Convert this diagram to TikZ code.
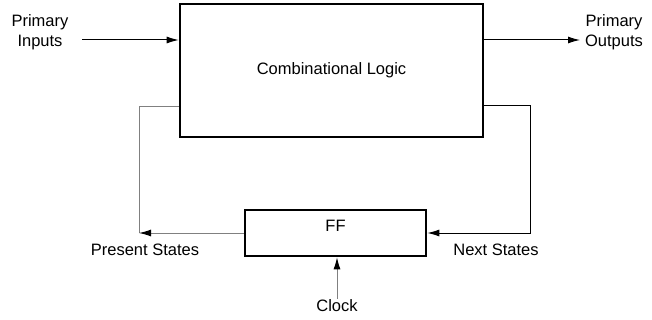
\documentclass[tikz,border=0pt]{standalone}
\usepackage{fontspec}
\setmainfont{Liberation Sans}
\usetikzlibrary{positioning,arrows.meta}

\begin{document}
\begin{tikzpicture}[x=1pt,y=-1pt,>={Latex[length=12pt,width=7pt,color=black]},font=\fontsize{16.5}{20}\selectfont]
\tikzstyle{block}=[rectangle,draw,line width=2.6pt,inner sep=0pt]
\tikzstyle{wire}=[line width=1pt]
\tikzstyle{lbl}=[align=center,inner sep=1pt]
\useasboundingbox (0,0) rectangle (652,320);

\node[block,minimum width=303pt,minimum height=133pt] (CL) at (331.5,70.5) {Combinational Logic};
\node[block,minimum width=181pt,minimum height=46pt] (FF) at (335.5,233) {};
\node[lbl] (FFt) at (335.5,226) {FF};

\node[lbl] (PI) at (40,32) {Primary\\Inputs};
\node[lbl] (PO) at (614,32) {Primary\\Outputs};
\node[lbl] (PS) at (145,250) {Present States};
\node[lbl] (NS) at (496,250) {Next States};
\node[lbl] (CK) at (337,306) {Clock};

\coordinate (pi) at (82,40);
\coordinate (po) at (580,40);
\coordinate (ps) at (139,107);
\coordinate (ns) at (530,106);

\draw[wire,->] (pi) -- (CL.west |- pi);
\draw[wire,->] (CL.east |- po) -- (po);
% feedback loop
\draw[wire,gray] (CL.west |- ps) -- (ps) -- (ps |- FF.west);
\draw[wire,gray,->] (FF.west) -- (ps |- FF.west);
\draw[wire,->] (CL.east |- ns) -- (ns) |- (FF.east);
\draw[wire,gray,->] (CK.north) -- (CK.north |- FF.south);
\end{tikzpicture}
\end{document}
